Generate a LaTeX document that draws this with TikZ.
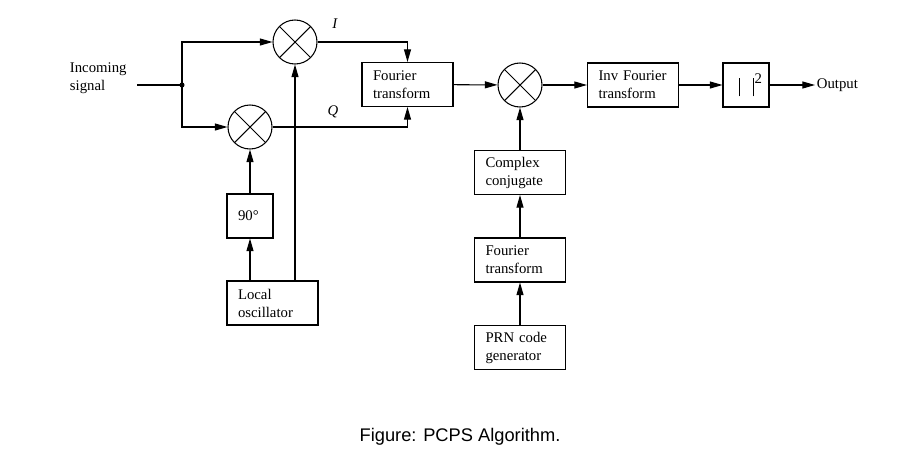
\documentclass[tikz,border=0pt]{standalone}
\usepackage{fontspec}
\setmainfont{Liberation Serif}
\newfontfamily\capfont{Liberation Sans}
\usetikzlibrary{arrows.meta,positioning,calc}

\begin{document}
\begin{tikzpicture}[
    blk/.style={draw, minimum height=1.1cm, text width=1.725cm, inner xsep=0.275cm, align=left, font=\fontsize{10.5}{12.8}\selectfont},
    sblk/.style={draw, minimum height=1.1cm, minimum width=1.15cm, text width=0.6cm, inner xsep=0.275cm, align=left, font=\fontsize{10.5}{12.8}\selectfont},
    absblk/.style={draw, minimum height=1.1cm, minimum width=1.15cm, inner sep=0pt, font=\fontsize{10.5}{12.8}\selectfont},
    mix/.style={draw, circle, minimum size=1.1cm, inner sep=0pt,
        path picture={\draw (path picture bounding box.center) ++(45:0.55) -- ++(225:1.1)
                            (path picture bounding box.center) ++(135:0.55) -- ++(-45:1.1);}},
    arr/.style={-{Triangle[length=9pt,width=5pt]}},
    lbl/.style={font=\fontsize{10.5}{12.8}\selectfont, inner sep=1pt},
    line width=0.75pt
]
\useasboundingbox (0,0) rectangle (22.625,-11.775);

% receiver front end
\node[lbl, anchor=west, align=left] (insig) at (1.7,-1.95) {Incoming\\signal};
\coordinate (in) at (3.425,-2.125);
\coordinate (jn) at (4.55,-2.125);
\node[mix] (mixI) at (7.375,-1.05) {};
\node[mix] (mixQ) at (6.25,-3.175) {};
\node[sblk] (ph) at (6.25,-5.4) {90°};
\node[blk] (lo) at (6.8125,-7.575) {Local\\oscillator};
\node[blk] (ft1) at (10.1875,-2.1125) {Fourier\\transform};
\node[lbl] (ilab) at (8.375,-0.6) {\textit{I}};
\node[lbl] (qlab) at (8.325,-2.8) {\textit{Q}};

% correlation chain
\node[mix] (mix2) at (13.0,-2.125) {};
\node[blk] (ift) at (15.825,-2.125) {Inv Fourier\\transform};
\node[absblk] (abs) at (18.65,-2.125)
    {\hspace*{6.4pt}\rule[-4pt]{0.4pt}{12.75pt}\hspace{3.4mm}\rule[-4pt]{0.4pt}{12.75pt}\hspace{0.8pt}\raisebox{5.2pt}{\fontsize{10.5}{10}\selectfont 2}};
\node[lbl, anchor=west] (outp) at (20.375,-2.125) {Output};
\node[blk] (cc) at (13.0,-4.3125) {Complex\\conjugate};
\node[blk] (ft2) at (13.0,-6.5) {Fourier\\transform};
\node[blk] (prn) at (13.0,-8.6875) {PRN code\\generator};

\draw (in) -- (jn);
\fill (jn) circle (1.8pt);
\draw[arr] (jn) |- (mixI.west);
\draw[arr] (jn) |- (mixQ.west);
\draw[arr] (mixI.east) -| (ft1.north);
\draw[arr] (mixQ.east) -| (ft1.south);
\draw[arr] (lo.north -| mixI.south) -- (mixI.south);
\draw[arr] (lo.north -| ph.south) -- (ph.south);
\draw[arr] (ph) -- (mixQ);
\draw[arr] (ft1) -- (mix2);
\draw[arr] (mix2) -- (ift);
\draw[arr] (ift) -- (abs);
\draw[arr] (abs) -- (outp.west);
\draw[arr] (prn) -- (ft2);
\draw[arr] (ft2) -- (cc);
\draw[arr] (cc) -- (mix2);

\node[font=\capfont\fontsize{13}{15}\selectfont] (cap) at (11.5,-10.925) {Figure: PCPS Algorithm.};
\end{tikzpicture}
\end{document}
